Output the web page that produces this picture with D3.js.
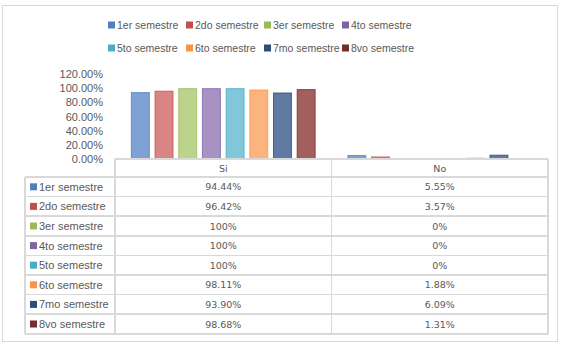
<!DOCTYPE html>
<html>
<head>
<meta charset="utf-8">
<script src="https://cdn.jsdelivr.net/npm/d3@7"></script>
<style>
  body { margin: 0; background: #fff; }
  text { fill: #595959; }
</style>
</head>
<body>
<svg id="chart" width="567" height="345"></svg>
<script>
// data
const semesters = ["1er semestre", "2do semestre", "3er semestre", "4to semestre",
                   "5to semestre", "6to semestre", "7mo semestre", "8vo semestre"];
const categories = ["Si", "No"];
const siValues = [94.44, 96.42, 100, 100, 100, 98.11, 93.90, 98.68];
const noValues = [5.55, 3.57, 0, 0, 0, 1.88, 6.09, 1.31];
const siLabels = ["94.44%", "96.42%", "100%", "100%", "100%", "98.11%", "93.90%", "98.68%"];
const noLabels = ["5.55%", "3.57%", "0%", "0%", "0%", "1.88%", "6.09%", "1.31%"];
const yTicks = [0, 20, 40, 60, 80, 100, 120];

const baseColors = ["#4f81bd", "#c0504d", "#9bbb59", "#8064a2", "#4bacc6", "#f79646", "#2c4d75", "#772c2a"];
const fillColors = ["#7ea2d3", "#d88584", "#bbd38d", "#a792c3", "#80c7d9", "#fbb47d", "#5f7aa3", "#a25f5e"];

const svg = d3.select("#chart");
const gridColor = "#d9d9d9";
const fontMain = "'Liberation Sans', Arial, sans-serif";
const fontTable = "'DejaVu Sans', Verdana, sans-serif";

// outer frame
svg.append("rect")
    .attr("x", 2.5).attr("y", 5.5)
    .attr("width", 555).attr("height", 336)
    .attr("fill", "#fff")
    .attr("stroke", gridColor);

// legend
const legendCols = d3.scaleBand().domain(d3.range(4)).range([108, 420]);
const legend = svg.append("g");
semesters.forEach((s, i) => {
    let lx = legendCols(i % 4);
    let ly = i < 4 ? 25 : 48;
    legend.append("rect")
        .attr("x", lx).attr("y", ly - 3.5)
        .attr("width", 7).attr("height", 7)
        .attr("fill", baseColors[i]);
    legend.append("text")
        .attr("x", lx + 9).attr("y", ly + 4)
        .style("font-family", fontMain)
        .style("font-size", "10.5px")
        .text(s);
});

// scales
const y = d3.scaleLinear().domain([0, 120]).range([159, 74]);
const x0 = d3.scaleBand().domain(categories).range([115, 548]);
const x1 = d3.scaleBand().domain(semesters).range([0, x0.bandwidth()])
    .paddingInner(0.2).paddingOuter(0.67);

// y axis (labels only)
const yAxis = svg.append("g")
    .attr("transform", "translate(106,0)")
    .call(d3.axisLeft(y).tickValues(yTicks).tickSize(0).tickPadding(3)
        .tickFormat(d => d3.format(".2f")(d) + "%"));
yAxis.select(".domain").remove();
yAxis.selectAll("text")
    .style("font-family", fontMain)
    .style("font-size", "11px")
    .attr("fill", "#595959");

// bars
const series = categories.map((c, ci) => ({ cat: c, values: ci == 0 ? siValues : noValues }));
series.forEach((cat) => {
    let g = svg.append("g").attr("transform", `translate(${x0(cat.cat)},0)`);
    g.selectAll("rect")
        .data(cat.values)
        .join("rect")
        .attr("x", (d, i) => x1(semesters[i]) + 0.5)
        .attr("y", d => y(d) + 0.5)
        .attr("width", x1.bandwidth() - 1)
        .attr("height", d => Math.max(0, y(0) - y(d) - 1))
        .attr("fill", (d, i) => fillColors[i])
        .attr("stroke", (d, i) => baseColors[i])
        .attr("stroke-opacity", 0.8)
        .attr("stroke-width", 1)
        .style("display", d => d > 0 ? null : "none");
});

// data table
const tableLeft = 25, labelRight = x0.range()[0], tableRight = x0.range()[1];
const headerTop = y(0), rowsTop = 177, rowH = 19.6;
const rowY = d3.scaleBand().domain(semesters).range([rowsTop, rowsTop + rowH * semesters.length]);
const tableBottom = rowY.range()[1];
const table = svg.append("g")
    .attr("stroke", gridColor)
    .attr("stroke-width", 1.5)
    .attr("shape-rendering", "crispEdges");

table.append("line").attr("x1", labelRight).attr("x2", tableRight).attr("y1", headerTop).attr("y2", headerTop);
d3.range(semesters.length + 1).forEach(i => {
    let ly = rowsTop + i * rowH;
    table.append("line").attr("x1", tableLeft).attr("x2", tableRight).attr("y1", ly).attr("y2", ly);
});
table.append("line").attr("x1", tableLeft).attr("x2", tableLeft).attr("y1", rowsTop).attr("y2", tableBottom);
[labelRight, x0("No"), tableRight].forEach(vx => {
    table.append("line").attr("x1", vx).attr("x2", vx).attr("y1", headerTop).attr("y2", tableBottom);
});

// header
categories.forEach(c => {
    svg.append("text")
        .attr("x", x0(c) + x0.bandwidth() / 2)
        .attr("y", (headerTop + rowsTop) / 2 + 3.5)
        .attr("text-anchor", "middle")
        .style("font-family", fontTable)
        .style("font-size", "9.5px")
        .text(c);
});

// rows
semesters.forEach((s, i) => {
    let cy = rowY(s) + rowY.bandwidth() / 2;
    svg.append("rect")
        .attr("x", 30).attr("y", cy - 3.5)
        .attr("width", 7).attr("height", 7)
        .attr("fill", baseColors[i]);
    svg.append("text")
        .attr("x", 39).attr("y", cy + 4)
        .style("font-family", fontMain)
        .style("font-size", "11px")
        .text(s);
    [siLabels[i], noLabels[i]].forEach((lab, ci) => {
        svg.append("text")
            .attr("x", x0(categories[ci]) + x0.bandwidth() / 2)
            .attr("y", cy + 3.5)
            .attr("text-anchor", "middle")
            .style("font-family", fontTable)
            .style("font-size", "9.5px")
            .text(lab);
    });
});
</script>
</body>
</html>
